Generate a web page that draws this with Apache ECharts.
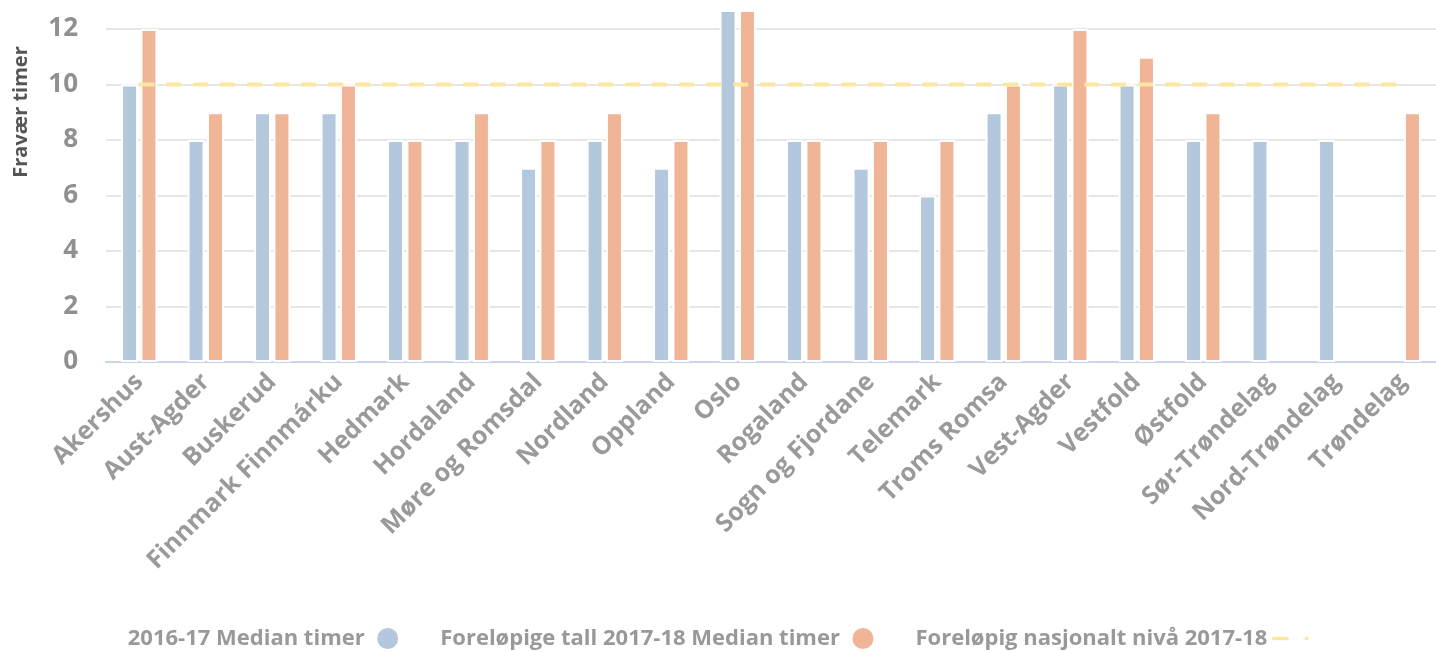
<!DOCTYPE html>
<html>
<head>
<meta charset="utf-8">
<script src="https://cdn.jsdelivr.net/npm/echarts@6/dist/echarts.min.js"></script>
<style>
  html, body { margin: 0; padding: 0; background: #fff; }
  #chart { width: 1436px; height: 652px; }
</style>
</head>
<body>
<div id="chart"></div>
<script>
const categories = ['Akershus', 'Aust-Agder', 'Buskerud', 'Finnmark Finnmárku', 'Hedmark', 'Hordaland',
  'Møre og Romsdal', 'Nordland', 'Oppland', 'Oslo', 'Rogaland', 'Sogn og Fjordane', 'Telemark',
  'Troms Romsa', 'Vest-Agder', 'Vestfold', 'Østfold', 'Sør-Trøndelag', 'Nord-Trøndelag', 'Trøndelag']
const median1617 = [10, 8, 9, 9, 8, 8, 7, 8, 7, 13, 8, 7, 6, 9, 10, 10, 8, 8, 8, null]
const median1718 = [12, 9, 9, 10, 8, 9, 8, 9, 8, 13, 8, 8, 8, 10, 12, 11, 9, null, null, 9]
const nationalLevel = [10, 10, 10, 10, 10, 10, 10, 10, 10, 10, 10, 10, 10, 10, 10, 10, 10, 10, 10, 10]
const seriesNames = ['2016-17 Median timer', 'Foreløpige tall 2017-18 Median timer', 'Foreløpig nasjonalt nivå 2017-18']

const font = '"Open Sans", "DejaVu Sans", sans-serif'
const chart = echarts.init(document.getElementById('chart'))
chart.setOption({
  animation: false,
  textStyle: { fontFamily: font },
  grid: {
    left: 106,
    right: -7,
    top: 11,
    bottom: 290
  },
  legend: {
    top: 621,
    left: 'center',
    align: 'right',
    itemWidth: 36,
    itemHeight: 23,
    itemGap: 40,
    textStyle: { color: '#999', fontSize: 22, fontWeight: 'bold', fontFamily: font },
    data: [
      { name: seriesNames[0], icon: 'circle' },
      { name: seriesNames[1], icon: 'circle' },
      // strek + prikk som i originalen
      { name: seriesNames[2], icon: 'path://M0,0h14v3H0z M28,0h3v3h-3z' }
    ]
  },
  graphic: [{
    type: 'text',
    x: 11,
    y: 112,
    rotation: Math.PI / 2,
    style: {
      text: 'Fravær timer',
      fill: '#555',
      font: 'bold 20px ' + font,
      align: 'center',
      verticalAlign: 'top'
    }
  }],
  xAxis: {
    type: 'category',
    data: categories,
    axisLine: { lineStyle: { color: '#c9d6ea', width: 2 } },
    axisTick: { show: false },
    axisLabel: {
      interval: 0,
      rotate: 45,
      margin: 16,
      color: '#9a9a9a',
      fontSize: 25,
      fontWeight: 'bold'
    }
  },
  yAxis: {
    type: 'value',
    min: 0,
    max: 12.65,
    interval: 2,
    axisLine: { show: false },
    axisTick: { show: false },
    axisLabel: {
      showMaxLabel: false,
      color: '#909090',
      fontSize: 26,
      fontWeight: 'bold',
      margin: 28
    },
    splitLine: {
      showMaxLine: false,
      lineStyle: { color: '#e6e6e6', width: 2 }
    }
  },
  series: [
    {
      name: seriesNames[0],
      type: 'bar',
      data: median1617,
      barWidth: 17,
      barGap: '14%',
      clip: true,
      itemStyle: { color: '#b3c8dd', borderColor: '#fff', borderWidth: 2 }
    },
    {
      name: seriesNames[1],
      type: 'bar',
      data: median1718,
      barWidth: 17,
      barGap: '14%',
      clip: true,
      itemStyle: { color: '#f0b496', borderColor: '#fff', borderWidth: 2 }
    },
    {
      name: seriesNames[2],
      type: 'line',
      data: nationalLevel,
      symbol: 'none',
      z: 5,
      lineStyle: { color: '#fde6a0', width: 4, type: [15, 12] },
      itemStyle: { color: '#fde6a0' }
    }
  ]
})
</script>
</body>
</html>
